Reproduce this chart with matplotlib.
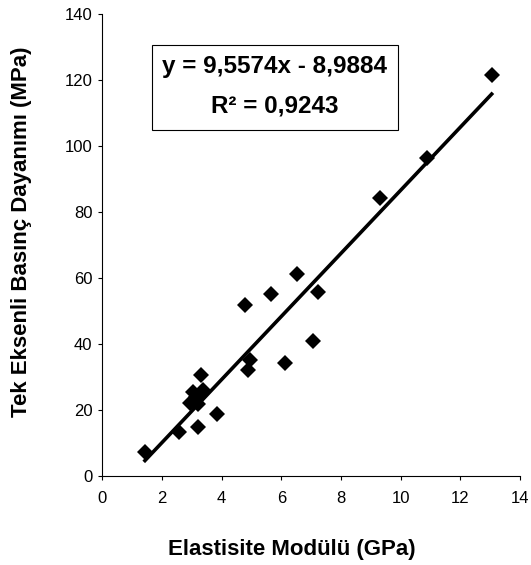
import matplotlib
matplotlib.use("Agg")
import matplotlib.pyplot as plt
from matplotlib.patches import Rectangle
import numpy as np

plt.rcParams['font.family'] = ['Liberation Sans', 'DejaVu Sans']

# Data
elastic_modulus = [1.43, 2.58, 3.20, 3.85, 2.94, 3.22, 3.03, 3.38, 3.14, 3.30,
                   4.89, 4.95, 6.12, 7.05, 4.78, 5.65, 6.53, 7.24, 9.31, 10.87, 13.05]
ucs = [7.4, 13.4, 14.8, 18.8, 22.0, 21.8, 25.5, 26.1, 24.0, 30.6,
       32.1, 35.2, 34.3, 41.0, 51.8, 55.2, 61.1, 55.8, 84.2, 96.3, 121.5]
slope = 9.5574
intercept = -8.9884
r_squared = 0.9243
x_ticks = [0, 2, 4, 6, 8, 10, 12, 14]
y_ticks = [0, 20, 40, 60, 80, 100, 120, 140]

W, H = 531, 565
fig = plt.figure(figsize=(W/100, H/100), dpi=100)
ax = fig.add_axes([102.3/W, (H-476)/H, (520-102.3)/W, (476-14)/H])

ax.plot(elastic_modulus, ucs, linestyle='none', marker='D', markersize=8.5,
        color='black', markeredgewidth=0, zorder=3)

xl = np.array([min(elastic_modulus), max(elastic_modulus)])
ax.plot(xl, slope*xl + intercept, color='black', linewidth=2.6, zorder=2)

ax.set_xlim(0, 14)
ax.set_ylim(0, 140)
ax.set_xticks(x_ticks)
ax.set_yticks(y_ticks)
ax.tick_params(direction='out', length=3, width=0.8, labelsize=12, colors='black')
ax.tick_params(axis='x', pad=8)
ax.tick_params(axis='y', pad=4)
for s in ['top', 'right']:
    ax.spines[s].set_visible(False)
for s in ['left', 'bottom']:
    ax.spines[s].set_linewidth(0.8)

fig.text(292/W, 1 - 549/H, 'Elastisite Modülü (GPa)', fontsize=16, fontweight='bold',
         ha='center', va='center')
fig.text(22/W, 1 - 232/H, 'Tek Eksenli Basınç Dayanımı (MPa)', fontsize=16, fontweight='bold',
         ha='center', va='center', rotation=90)

fig.patches.append(Rectangle((152/W, 1 - 130/H), (398-152)/W, (130-45)/H,
                             transform=fig.transFigure, facecolor='white',
                             edgecolor='black', linewidth=0.8, zorder=5))
eq = f"y = {slope:.4f}x - {abs(intercept):.4f}".replace('.', ',')
r2 = f"R² = {r_squared:.4f}".replace('.', ',')
fig.text(275/W, 1 - 66/H, eq, fontsize=17.5, fontweight='bold', ha='center', va='center', zorder=6)
fig.text(275/W, 1 - 106/H, r2, fontsize=17.5, fontweight='bold', ha='center', va='center', zorder=6)

fig.savefig('out.png', dpi=100)
